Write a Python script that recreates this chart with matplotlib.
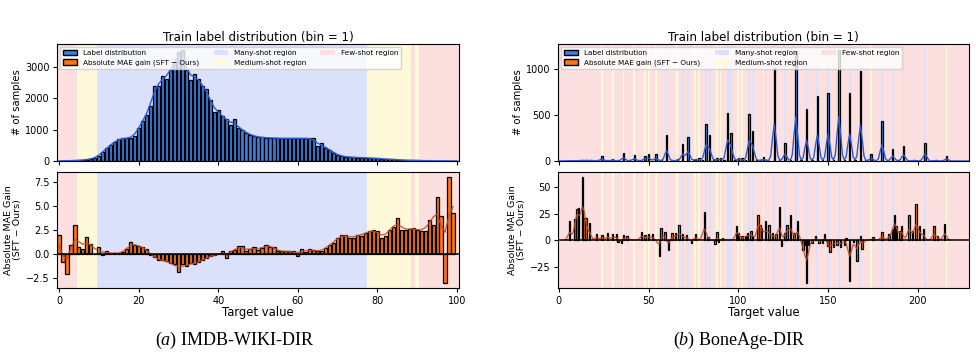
import numpy as np
import matplotlib
matplotlib.use("Agg")
import matplotlib.pyplot as plt
from matplotlib.patches import Patch

plt.rcParams['font.family'] = ['DejaVu Sans']
plt.rcParams['mathtext.fontset'] = 'custom'
plt.rcParams['mathtext.it'] = 'Liberation Serif:italic'
plt.rcParams['mathtext.rm'] = 'Liberation Serif'

# ---------------- data: IMDB-WIKI-DIR ----------------
imdb_labels = list(range(0, 101))
imdb_counts = [
    5, 8, 10, 12, 15,            # 0-4
    22, 30, 45, 65, 90,          # 5-9
    160, 300, 400, 520, 620,     # 10-14
    700, 720, 720, 730, 780,     # 15-19
    1050, 1270, 1450, 1750, 2400,  # 20-24
    2400, 2700, 2600, 2880, 3150,  # 25-29
    3450, 3520, 2880, 2560, 2770,  # 30-34
    2610, 2400, 2290, 1950, 1560,  # 35-39
    1620, 1430, 1320, 1160, 1320,  # 40-44
    1050, 1000, 900, 840, 790,     # 45-49
    760, 750, 740, 735, 730,       # 50-54
    725, 720, 720, 720, 720,       # 55-59
    720, 720, 720, 720, 730,       # 60-64
    470, 560, 420, 360, 260,       # 65-69
    200, 150, 135, 125, 115,       # 70-74
    110, 105, 102, 95, 88,         # 75-79
    80, 72, 62, 55, 48,            # 80-84
    40, 34, 28, 23, 18,            # 85-89
    21, 14, 12, 10, 8,             # 90-94
    7, 5, 4, 3, 3,                 # 95-99
    2,                             # 100
]
imdb_gain_labels = list(range(0, 100))
imdb_gain = [
    2.05, -0.8, -2.0, 1.0, 3.0, 0.75, 0.5, 1.8, 1.1, 0.05,
    0.8, -0.1, 0.35, 0.05, 0.15, 0.05, 0.2, 0.5, 1.25, 1.0,
    0.9, 0.75, 0.55, -0.1, -0.3, -0.6, -0.6, -0.7, -0.9, -1.0,
    -1.8, -1.0, -1.25, -0.9, -1.0, -0.8, -0.6, -0.4, -0.2, -0.1,
    0.0, 0.35, -0.35, 0.3, 0.4, 0.85, 0.85, 0.3, 0.5, 0.75,
    0.4, 0.7, 1.0, 0.8, 0.8, 0.3, 0.3, 0.3, 0.35, 0.3,
    -0.15, 0.6, 0.2, 0.55, 0.45, 0.3, 0.3, 0.65, 1.0, 1.2,
    1.7, 2.0, 2.05, 1.7, 1.7, 2.05, 1.95, 2.2, 2.4, 2.55,
    2.4, 1.7, 1.85, 2.55, 2.8, 3.8, 2.55, 2.55, 2.6, 2.75,
    2.55, 2.45, 2.4, 3.6, 3.0, 6.0, 4.0, -3.0, 8.0, 4.3,
]

# ---------------- data: BoneAge-DIR ----------------
bone_max_label = 228
bone_count_pos = [3, 5, 6, 8, 9, 10, 12, 13, 15, 17, 18, 21, 24, 27, 30, 33, 36, 39,
                  42, 45, 48, 50, 52, 54, 57, 60, 63, 66, 69, 72, 75, 76, 78, 80, 82,
                  84, 86, 88, 90, 92, 94, 96, 98, 100, 102, 104, 106, 108, 110, 112,
                  114, 116, 117, 120, 123, 126, 129, 132, 135, 138, 141, 144, 147,
                  150, 153, 156, 159, 162, 165, 168, 171, 174, 177, 180, 183, 186,
                  189, 192, 195, 198, 201, 204, 207, 210, 213, 216, 219, 222, 228]
bone_count_val = [2, 3, 4, 3, 5, 4, 8, 6, 9, 5, 11, 6, 58, 7, 25, 6, 90, 8,
                  65, 9, 58, 72, 5, 72, 10, 283, 9, 22, 185, 261, 14, 21, 32, 12, 398,
                  279, 6, 36, 30, 8, 525, 300, 7, 36, 30, 6, 507, 326, 9, 12,
                  40, 8, 5, 1007, 10, 192, 9, 1188, 10, 562, 8, 706, 9,
                  735, 11, 1207, 10, 735, 9, 971, 6, 76, 5, 438, 6, 130,
                  7, 167, 4, 15, 3, 192, 3, 10, 2, 54, 2, 1, 1]
bone_gain_pos = [6, 9, 10, 11, 13, 14, 15, 17, 21, 24, 27, 30, 32, 33, 35, 36, 38, 46,
                 48, 50, 52, 56, 57, 59, 61, 63, 65, 67, 69, 71, 74, 76, 81, 83, 87,
                 88, 89, 91, 99, 100, 102, 104, 105, 107, 108, 111, 112, 113, 115,
                 117, 119, 121, 123, 124, 126, 127, 129, 131, 133, 136, 137, 138,
                 139, 141, 143, 145, 147, 148, 150, 151, 153, 155, 157, 159, 160,
                 162, 164, 166, 168, 169, 175, 180, 184, 186, 187, 188, 190, 191,
                 195, 197, 199, 201, 203, 209, 211, 215]
bone_gain_val = [18, 20, 29, 30, 59, 21, 21, 16, 6, 5, 7, 6, 6, -2, -3, 5, 4, 8,
                 5, 6, 6, -14.5, 11, 8, -9.5, 7, 7, 14, 6, 5, -2.5, 6, 26, 3, -3.5,
                 7.5, -2, 2, 13, 7, 4, 4, 7, 9, 4, 24, 14, 11, 18,
                 14, 7, 6, 31, -6, 6.5, 14, 24, 6.5, 18, -9.5, -5, -40,
                 -5, -3, 4, -3, -3, 6, -6, -11, -6.5, -4.5, -6.5, -4.5, 2,
                 -38, -2, -20, 4, -8.5, 3, 8, 6, 10.5, 24, 13, 9, 13,
                 24, 9, 34, 13, 10.5, 13, 4, 15]

BAR_BLUE = '#3a7fe3'
LINE_BLUE = '#2b5bd0'
BAR_ORANGE = '#fb7417'
LINE_RED = '#bf4a2a'
REGION_COLORS = {'many': '#dbe1fa', 'medium': '#fef9d8', 'few': '#fcdfdf'}
TICK_FS = 7
YLAB_FS = 7.2
GLAB_FS = 6.8
XLAB_FS = 8.4
TITLE_FS = 8.6
LEG_FS = 5.2


def smooth(y, sigma=1.0):
    radius = int(4 * sigma + 0.5)
    k = np.arange(-radius, radius + 1)
    w = np.exp(-0.5 * (k / sigma) ** 2)
    w /= w.sum()
    yp = np.pad(np.asarray(y, float), radius, mode='symmetric')
    return np.convolve(yp, w, mode='valid')


def region_of(c):
    if c > 100:
        return 'many'
    if c >= 20:
        return 'medium'
    return 'few'


def shade_regions(ax, labels, counts, xlim):
    regs = [region_of(c) for c in counts]
    start = 0
    n = len(labels)
    for i in range(1, n + 1):
        if i == n or regs[i] != regs[start]:
            lo = labels[start] - 0.5 if start > 0 else xlim[0]
            hi = labels[i - 1] + 0.5 if i < n else xlim[1]
            ax.axvspan(lo, hi, color=REGION_COLORS[regs[start]], lw=0, zorder=0)
            start = i


def add_legend(ax):
    handles = [
        Patch(facecolor=BAR_BLUE, edgecolor='black', label='Label distribution'),
        Patch(facecolor=BAR_ORANGE, edgecolor='black', label='Absolute MAE gain (SFT \u2212 Ours)'),
        Patch(facecolor=REGION_COLORS['many'], edgecolor='none', label='Many-shot region'),
        Patch(facecolor=REGION_COLORS['medium'], edgecolor='none', label='Medium-shot region'),
        Patch(facecolor=REGION_COLORS['few'], edgecolor='none', label='Few-shot region'),
    ]
    leg = ax.legend(handles=handles, loc='upper left', ncol=3, fontsize=LEG_FS,
                    framealpha=0.8, borderaxespad=0.4, columnspacing=2.0)
    leg.set_zorder(10)


def setup_axes(ax_t, ax_b, labels, counts, xlim, xt):
    for ax in (ax_t, ax_b):
        shade_regions(ax, labels, counts, xlim)
        ax.set_xlim(*xlim)
        ax.set_xticks(xt)
        ax.tick_params(labelsize=TICK_FS, length=3, width=0.8, pad=2.5)
    ax_t.tick_params(labelbottom=False)
    ax_t.set_ylabel('# of samples', fontsize=YLAB_FS, labelpad=2)
    ax_t.set_title('Train label distribution (bin = 1)', fontsize=TITLE_FS, pad=2.5)
    ax_b.axhline(0, color='black', lw=1.1, zorder=4)
    ax_b.set_ylabel('Absolute MAE Gain\n(SFT \u2212 Ours)', fontsize=GLAB_FS,
                    linespacing=1.0, labelpad=3)
    ax_b.set_xlabel('Target value', fontsize=XLAB_FS, labelpad=0.5)
    add_legend(ax_t)


fig = plt.figure(figsize=(9.76, 3.56), dpi=100)
W, H = 976.0, 356.0
ax_a_t = fig.add_axes([57 / W, (H - 161) / H, 402 / W, 117 / H])
ax_a_b = fig.add_axes([57 / W, (H - 288) / H, 402 / W, 116 / H])
ax_b_t = fig.add_axes([558 / W, (H - 161) / H, 411 / W, 117 / H])
ax_b_b = fig.add_axes([558 / W, (H - 288) / H, 411 / W, 116 / H])

# ---- (a) IMDB-WIKI-DIR ----
la = np.asarray(imdb_labels)
ca = np.asarray(imdb_counts, float)
setup_axes(ax_a_t, ax_a_b, la, ca, (-0.5, 100.5), [0, 20, 40, 60, 80, 100])
ax_a_t.bar(la, ca, width=0.8, color=BAR_BLUE, edgecolor='black', linewidth=0.9, zorder=2)
ax_a_t.plot(la, smooth(ca), color=LINE_BLUE, lw=1.0, zorder=3)
ax_a_t.set_ylim(0, 3720)
ax_a_t.set_yticks([0, 1000, 2000, 3000])
ax_a_b.bar(imdb_gain_labels, imdb_gain, width=0.8, color=BAR_ORANGE, edgecolor='black',
           linewidth=0.9, zorder=2)
ax_a_b.plot(imdb_gain_labels, smooth(imdb_gain), color=LINE_RED, lw=1.0, alpha=0.85, zorder=3)
ax_a_b.set_ylim(-3.5, 8.55)
ax_a_b.set_yticks([-2.5, 0.0, 2.5, 5.0, 7.5])
ax_a_b.set_yticklabels(['\u22122.5', '0.0', '2.5', '5.0', '7.5'])

# ---- (b) BoneAge-DIR ----
lb = np.arange(0, bone_max_label + 1)
cb = np.zeros(len(lb))
cb[np.asarray(bone_count_pos)] = bone_count_val
gb = np.zeros(len(lb))
gb[np.asarray(bone_gain_pos)] = bone_gain_val
setup_axes(ax_b_t, ax_b_b, lb, cb, (-0.5, 228.5), [0, 50, 100, 150, 200])
ax_b_t.bar(bone_count_pos, bone_count_val, width=0.8, color=BAR_BLUE, edgecolor='black',
           linewidth=0.9, zorder=2)
ax_b_t.plot(lb, smooth(cb), color=LINE_BLUE, lw=1.0, zorder=3)
ax_b_t.set_ylim(0, 1268)
ax_b_t.set_yticks([0, 500, 1000])
ax_b_b.bar(bone_gain_pos, bone_gain_val, width=0.8, color=BAR_ORANGE, edgecolor='black',
           linewidth=0.9, zorder=2)
gmin, gmax = min(bone_gain_pos) - 3, max(bone_gain_pos) + 3
sm = smooth(gb)
ax_b_b.plot(lb[gmin:gmax + 1], sm[gmin:gmax + 1], color=LINE_RED, lw=1.0, alpha=0.85, zorder=3)
ax_b_b.set_ylim(-45, 64)
ax_b_b.set_yticks([-25, 0, 25, 50])
ax_b_b.set_yticklabels(['\u221225', '0', '25', '50'])

fig.text(234.7 / W, 1 - 340.5 / H, r'$\mathit{(a)}$ IMDB-WIKI-DIR', ha='center', va='center',
         fontsize=13, family='Liberation Serif')
fig.text(739.5 / W, 1 - 340.5 / H, r'$\mathit{(b)}$ BoneAge-DIR', ha='center', va='center',
         fontsize=13, family='Liberation Serif')

fig.savefig('out.png', dpi=100)
